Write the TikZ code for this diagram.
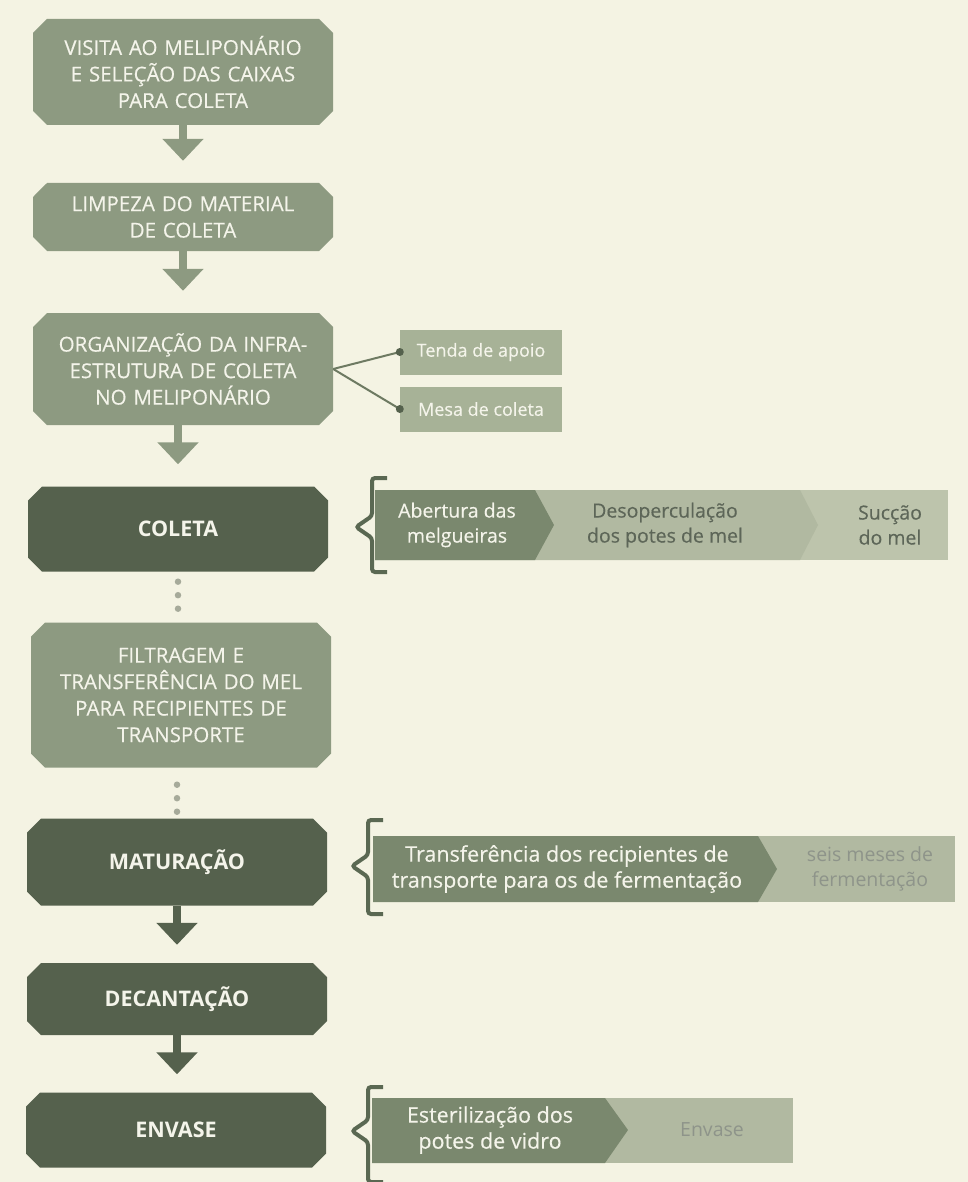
\documentclass[tikz,border=0pt]{standalone}
\usepackage{fontspec}
\setmainfont{Open Sans}
\newfontfamily\semib[FakeBold=0.35]{Open Sans}
\usetikzlibrary{shapes.misc,arrows.meta}
\definecolor{bg}{HTML}{F4F3E3}
\definecolor{lightbox}{HTML}{8D9A81}
\definecolor{darkbox}{HTML}{55614D}
\definecolor{subbox}{HTML}{A7B297}
\definecolor{segA}{HTML}{7A886E}
\definecolor{segB}{HTML}{B1B9A1}
\definecolor{segC}{HTML}{BDC4AC}
\definecolor{segtext}{HTML}{5D6658}
\definecolor{fainttext}{HTML}{8E948A}
\definecolor{boxtext}{HTML}{F4F4EA}
\definecolor{dotc}{HTML}{A6AA9A}
\definecolor{bracec}{HTML}{5A6852}
\definecolor{linkc}{HTML}{6E7A62}
\tikzset{
  stepbox/.style={chamfered rectangle, chamfered rectangle xsep=7pt, chamfered rectangle ysep=7pt,
    inner sep=0pt, minimum width=300pt, text width=286pt, align=center, text=boxtext,
    font=\semib\fontsize{20.5}{26.5}\selectfont},
  lightstep/.style={stepbox, fill=lightbox},
  darkstep/.style={stepbox, fill=darkbox, minimum width=298pt, font=\fontsize{21.5}{26}\selectfont\bfseries},
  subitem/.style={rectangle, fill=subbox, minimum width=162pt, minimum height=45pt, inner sep=0pt,
    text=boxtext, font=\semib\fontsize{18}{24}\selectfont},
  segtxt/.style={align=center, inner sep=0pt, font=\semib\fontsize{19.5}{25}\selectfont},
  bigseg/.style={segtxt, font=\semib\fontsize{21.5}{26}\selectfont},
  faint/.style={align=center, inner sep=0pt, text=fainttext, font=\fontsize{19.5}{25}\selectfont},
  flowarrow/.style={draw=#1, line width=8pt, -{Triangle[width=40pt,length=22pt]}, shorten >=22pt},
  dotline/.style={draw=dotc, line width=6.5pt, line cap=round, dash pattern=on 0pt off 13.5pt},
  bracket/.style={draw=bracec, line width=4pt, rounded corners=3pt},
  link/.style={draw=linkc, line width=2pt},
  linkdot/.style={circle, fill=darkbox, inner sep=0pt, minimum size=8pt},
}
\begin{document}
\begin{tikzpicture}[x=1pt,y=-1pt]
\fill[bg] (0,0) rectangle (968,1182);
\useasboundingbox (0,0) rectangle (968,1182);

% main column
\node[lightstep, minimum height=106pt] (b1) at (183,72) {VISITA AO MELIPONÁRIO\\E SELEÇÃO DAS CAIXAS\\PARA COLETA};
\node[lightstep, minimum height=68pt] (b2) at (183,217) {LIMPEZA DO MATERIAL\\DE COLETA};
\node[lightstep, minimum height=112pt] (b3) at (183,369) {ORGANIZAÇÃO DA INFRA-\\ESTRUTURA DE COLETA\\NO MELIPONÁRIO};
\node[darkstep, minimum height=85pt] (b4) at (178,529) {COLETA};
\node[lightstep, minimum height=145pt] (b5) at (181,695) {FILTRAGEM E\\TRANSFERÊNCIA DO MEL\\PARA RECIPIENTES DE\\TRANSPORTE};
\node[darkstep, minimum height=87pt] (b6) at (177,862) {MATURAÇÃO};
\node[darkstep, minimum height=72pt] (b7) at (177,999) {DECANTAÇÃO};
\node[darkstep, minimum height=75pt] (b8) at (176,1130) {ENVASE};

\draw[flowarrow=lightbox] (b1.south) -- (b2.north);
\draw[flowarrow=lightbox] (b2.south) -- (b3.north);
\draw[flowarrow=lightbox] (b3.south -| b4.north) -- (b4.north);
\draw[dotline, shorten <=10pt, shorten >=13pt] (b4.south) -- (b4.south |- b5.north);
\draw[dotline, shorten <=17pt, shorten >=4pt] (b6.north |- b5.south) -- (b6.north);
\draw[flowarrow=darkbox, shorten >=18pt] (b6.south) -- (b6.south |- b7.north);
\draw[flowarrow=darkbox, shorten >=18pt] (b7.south) -- (b7.south |- b8.north);

% infrastructure items
\node[subitem] (t1) at (481,352) {Tenda de apoio};
\node[subitem] (t2) at (481,409) {Mesa de coleta};
\draw[link] (b3.east) -- (t1.west);
\draw[link] (b3.east) -- (t2.west);
\node[linkdot] at (t1.west) {};
\node[linkdot] at (t2.west) {};

% COLETA row
\fill[segC] (375,490) rectangle (948,560);
\fill[segB] (375,490) -- (800,490) -- (818,525) -- (800,560) -- (375,560) -- cycle;
\fill[segA] (375,490) -- (535,490) -- (554,525) -- (535,560) -- (375,560) -- cycle;
\node[segtxt, text=boxtext] (c1) at (457,525) {Abertura das\\melgueiras};
\node[segtxt, text=segtext] (c2) at (665,525) {Desoperculação\\dos potes de mel};
\node[segtxt, text=segtext] (c3) at (890,525) {Sucção\\do mel};
\draw[bracket] (387,478) -- (372,478) -- (372,516) -- (356,527) -- (372,538) -- (372,572) -- (387,572);

% MATURACAO row
\fill[segB] (373,836) rectangle (955,902);
\fill[segA] (373,836) -- (758,836) -- (777,869) -- (758,902) -- (373,902) -- cycle;
\node[bigseg, text=boxtext] (m1) at (567,869) {Transferência dos recipientes de\\transporte para os de fermentação};
\node[faint] (m2) at (870,869) {seis meses de\\fermentação};
\draw[bracket] (383,820) -- (368,820) -- (368,855) -- (352,866) -- (368,877) -- (368,914) -- (383,914);

% ENVASE row
\fill[segB] (372,1098) rectangle (793,1163);
\fill[segA] (372,1098) -- (605,1098) -- (628,1130) -- (605,1163) -- (372,1163) -- cycle;
\node[bigseg, text=boxtext] (e1) at (490,1130) {Esterilização dos\\potes de vidro};
\node[faint] (e2) at (712,1130) {Envase};
\draw[bracket] (383,1087) -- (368,1087) -- (368,1120) -- (352,1131) -- (368,1142) -- (368,1182) -- (383,1182);
\end{tikzpicture}
\end{document}
